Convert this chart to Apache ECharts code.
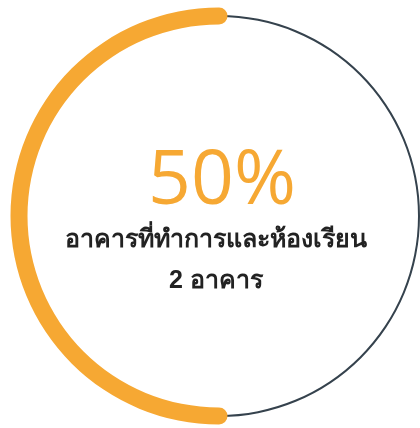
<!DOCTYPE html>
<html><head><meta charset="utf-8">
<script src="https://cdn.jsdelivr.net/npm/echarts@6/dist/echarts.min.js"></script>
<style>html,body{margin:0;padding:0;background:#fff}#c{width:420px;height:428px}</style>
</head><body><div id="c"></div>
<script>
const percentValue = [50];
const maxValue = 100;
const labelLines = ['อาคารที่ทำการและห้องเรียน', '2 อาคาร'];

const chart = echarts.init(document.getElementById('c'), null, {renderer:'canvas'});
const center = [219, 216];
const base = {
  type: 'gauge', center: center, startAngle: 90, endAngle: -270, clockwise: false,
  min: 0, max: maxValue, pointer:{show:false}, axisTick:{show:false}, splitLine:{show:false},
  axisLabel:{show:false}, title:{show:false}, anchor:{show:false}
};
chart.setOption({
  animation: false,
  series: [
    Object.assign({}, base, {
      radius: 201,
      axisLine: {lineStyle: {width: 2, color: [[1, '#35424d']]}},
      progress: {show: false},
      detail: {show: false},
      data: [{value: 0}]
    }),
    Object.assign({}, base, {
      radius: 208.5,
      axisLine: {show: false},
      progress: {show: true, width: 17, roundCap: true, itemStyle: {color: '#f6a833'}},
      detail: {
        show: true, offsetCenter: [-3, 8], fontWeight: 'normal',
        formatter: function(v){ return '{a|' + v + '%}\n{b|' + labelLines[0] + '}\n{c|' + labelLines[1] + '}'; },
        rich: {
          a: {fontFamily: '"Open Sans"', fontSize: 75, fontWeight: 'normal', color: '#f6a833', lineHeight: 72, padding:[0,0,0,12]},
          b: {fontSize: 25, fontWeight: 'bold', color: '#222', lineHeight: 42},
          c: {fontSize: 25, fontWeight: 'bold', color: '#222', lineHeight: 40}
        }
      },
      data: [{value: percentValue[0]}]
    })
  ]
});
</script></body></html>
